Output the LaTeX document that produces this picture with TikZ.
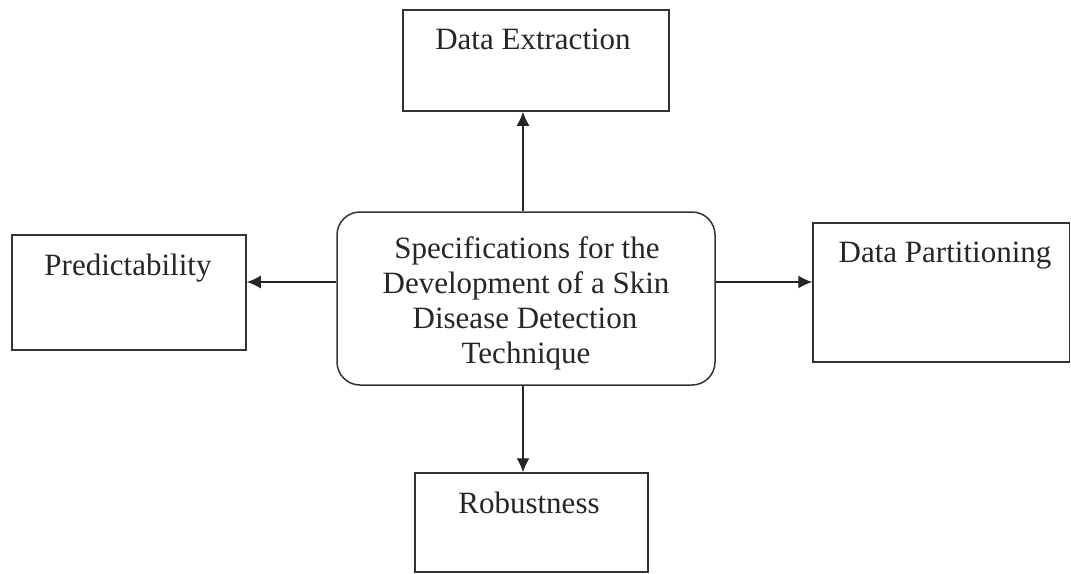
\documentclass[tikz,border=0pt]{standalone}
\usepackage{fontspec}
\setmainfont{Liberation Serif}
\usetikzlibrary{arrows.meta}
\begin{document}
\begin{tikzpicture}[x=1pt,y=1pt,
  box/.style={draw=black!80, line width=1.5pt, inner sep=0pt},
  lbl/.style={font=\fontsize{31}{35}\selectfont, anchor=base, inner sep=0pt, text=black!85},
  arr/.style={line width=1.4pt, draw=black!85, -{Latex[length=14pt,width=13pt]}}]
\useasboundingbox[fill=white] (0,0) rectangle (1071,-573);
% boxes
\node[box, minimum width=266pt, minimum height=101pt] (ext) at (536,-60.5) {};
\node[box, minimum width=234pt, minimum height=115pt] (pred) at (129,-292.5) {};
\node[box, minimum width=256.5pt, minimum height=139pt] (part) at (941.25,-292.5) {};
\node[box, minimum width=233pt, minimum height=99pt] (rob) at (531.5,-522.5) {};
\node[box, rounded corners=23pt, minimum width=378pt, minimum height=173pt] (spec) at (526,-298.5) {};
% labels
\node[lbl] (extT) at (533,-49) {Data Extraction};
\node[lbl] (predT) at (128,-275) {Predictability};
\node[lbl] (partT) at (945,-262) {Data Partitioning};
\node[lbl] (robT) at (529,-513) {Robustness};
\node[lbl] (spec1) at (527,-258) {Specifications for the};
\node[lbl] (spec2) at (526,-293) {Development of a Skin};
\node[lbl] (spec3) at (525,-328) {Disease Detection};
\node[lbl] (spec4) at (526,-363) {Technique};
% arrow guides
\coordinate (ay) at (0,-282);
\coordinate (ax) at (523,0);
% connectors
\draw[arr] (spec.north -| ax) -- (ext.south -| ax);
\draw[arr] (spec.south -| ax) -- (rob.north -| ax);
\draw[arr] (spec.west |- ay) -- (pred.east |- ay);
\draw[arr] (spec.east |- ay) -- (part.west |- ay);
\end{tikzpicture}
\end{document}
